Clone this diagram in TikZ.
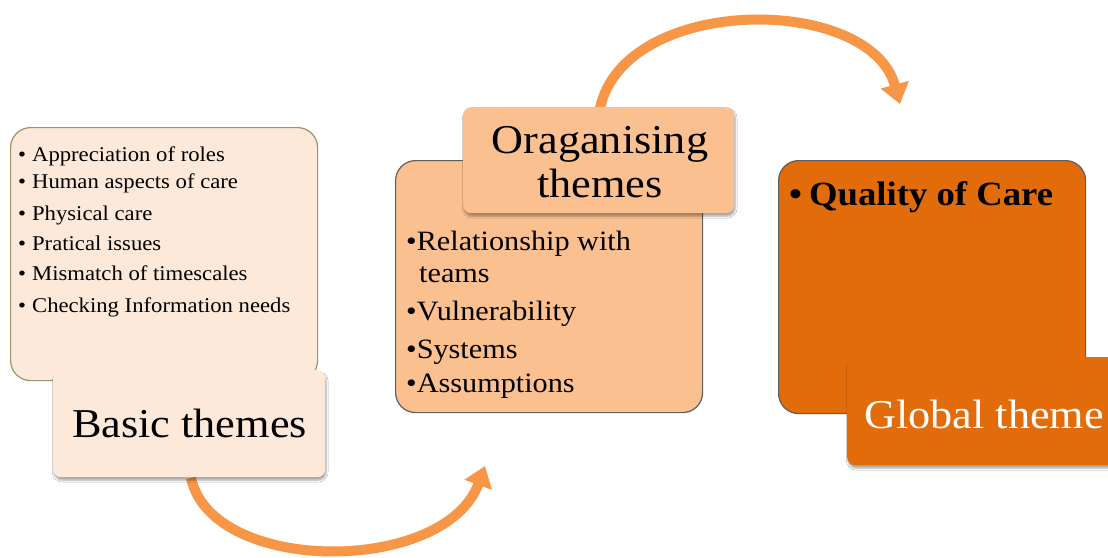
\documentclass[tikz,border=0pt]{standalone}
\usepackage{fontspec}
\setmainfont[FakeStretch=1.08]{Liberation Serif}
\usetikzlibrary{arrows.meta,shadows.blur}

\definecolor{basicfill}{HTML}{FDE9D9}
\definecolor{basicedge}{HTML}{9C9568}
\definecolor{orgfill}{HTML}{FAC090}
\definecolor{globfill}{HTML}{E36C0A}
\definecolor{boxedge}{HTML}{5F5F5F}
\definecolor{flow}{HTML}{F79646}

\begin{document}
\begin{tikzpicture}[x=1pt,y=-1pt,
  panel/.style={draw, line width=1.2pt, rounded corners=20pt, anchor=north west, inner sep=0pt},
  tag/.style={rounded corners=8pt, anchor=north west, inner sep=0pt,
    blur shadow={shadow xshift=1pt, shadow yshift=-3pt, shadow blur steps=6, shadow opacity=35}},
  flowarrow/.style={draw=flow, line width=10pt, -{Triangle[width=28pt,length=20pt]}},
  smallitem/.style={anchor=base west, inner sep=0pt, font=\fontsize{21}{25}\selectfont},
  miditem/.style={anchor=base west, inner sep=0pt, font=\fontsize{28}{32}\selectfont},
  title/.style={inner sep=0pt, font=\fontsize{41}{44}\selectfont, align=center}]

\useasboundingbox (0,0) rectangle (1108,557);
\fill[white] (0,0) rectangle (1108,557);

% ---------- basic themes ----------
\node[panel, draw=basicedge, fill=basicfill, minimum width=307pt, minimum height=253pt] (basic) at (10,127) {};
\node[smallitem] (b1) at (18,161) {\textbullet\hspace{6pt}Appreciation of roles};
\node[smallitem] (b2) at (18,188) {\textbullet\hspace{6pt}Human aspects of care};
\node[smallitem] (b3) at (18,220) {\textbullet\hspace{6pt}Physical care};
\node[smallitem] (b4) at (18,250) {\textbullet\hspace{6pt}Pratical issues};
\node[smallitem] (b5) at (18,280) {\textbullet\hspace{6pt}Mismatch of timescales};
\node[smallitem] (b6) at (18,312) {\textbullet\hspace{6pt}Checking Information needs};

% ---------- organising themes ----------
\node[panel, draw=boxedge, fill=orgfill, minimum width=307pt, minimum height=252pt] (org) at (395,160) {};
\node[miditem] (o1) at (406,250) {\textbullet Relationship with};
\node[miditem] (o1b) at (419,282) {teams};
\node[miditem] (o2) at (406,320) {\textbullet Vulnerability};
\node[miditem] (o3) at (406,358) {\textbullet Systems};
\node[miditem] (o4) at (406,392) {\textbullet Assumptions};

% ---------- global theme ----------
\node[panel, draw=boxedge, fill=globfill, minimum width=307pt, minimum height=253pt] (glob) at (778,160) {};
\node[anchor=base west, inner sep=0pt, font=\fontsize{34}{38}\selectfont\bfseries] (q1) at (789,205) {\textbullet\hspace{7pt}Quality of Care};

% ---------- flow arrows ----------
\coordinate (f1s) at (191,478);
\coordinate (f1e) at (485,466);
\coordinate (f2s) at (600,108);
\coordinate (f2e) at (900,104);
\draw[flowarrow] (f1s) .. controls (212,575) and (445,575) .. (f1e);
\draw[flowarrow] (f2s) .. controls (625,-6) and (870,-6) .. (f2e);

% ---------- theme tags ----------
\node[tag, fill=basicfill, minimum width=272pt, minimum height=107pt] (basictag) at (53,370) {};
\node[title, anchor=base] (basictxt) at (189.5,437) {Basic themes};

\node[tag, fill=orgfill, minimum width=271pt, minimum height=106pt] (orgtag) at (463,107) {};
\node[title, anchor=base] (orgtxt1) at (600,153) {Oraganising};
\node[title, anchor=base] (orgtxt2) at (600,197) {themes};

\node[tag, fill=globfill, minimum width=290pt, minimum height=108pt] (globtag) at (847,357) {};
\node[title, anchor=base west, text=white] (globtxt) at (864,428) {Global theme};

\end{tikzpicture}
\end{document}
